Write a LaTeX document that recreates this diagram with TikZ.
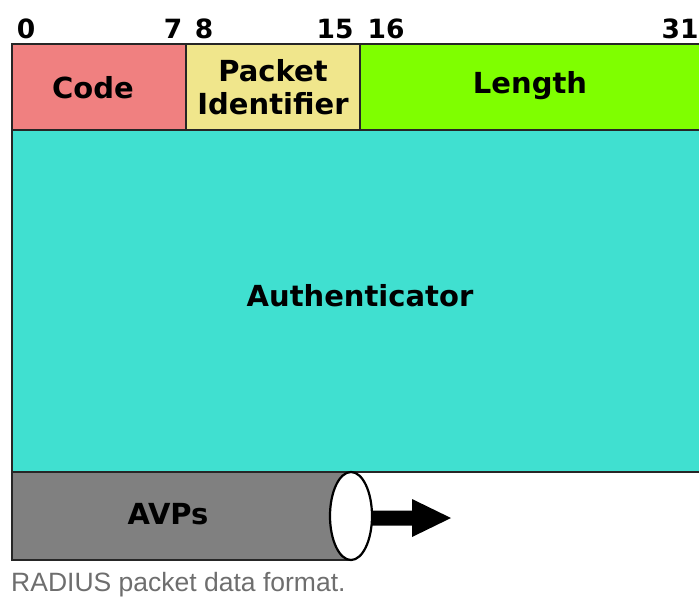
\documentclass[tikz,border=0pt]{standalone}
\usepackage{fontspec}
\setmainfont{DejaVu Sans}
\newfontfamily\capfont{Liberation Sans}
\begin{document}
\begin{tikzpicture}[x=1pt,y=-1pt,
  field/.style={draw=black!85,line width=2pt},
  lbl/.style={font=\bfseries\fontsize{29}{32}\selectfont,inner sep=0pt},
  bitnum/.style={font=\bfseries\fontsize{26.5}{28}\selectfont,inner sep=0pt,anchor=base}]
\useasboundingbox (0,0) rectangle (699,598);
\clip (0,0) rectangle (699,598);
% header row
\fill[fill={rgb,255:red,240;green,128;blue,128}] (12,44) rectangle (186,130);
\fill[fill={rgb,255:red,240;green,230;blue,140}] (186,44) rectangle (360,130);
\fill[fill={rgb,255:red,127;green,255;blue,0}] (360,44) rectangle (710,130);
\fill[fill={rgb,255:red,64;green,224;blue,208}] (12,130) rectangle (710,472);
\draw[field] (12,44) rectangle (710,472);
\draw[field] (12,130) -- (710,130);
\draw[field] (186,44) -- (186,130);
\draw[field] (360,44) -- (360,130);
% field labels
\node[lbl] (code) at (93,88) {Code};
\node[lbl,align=center,font=\bfseries\fontsize{29}{33}\selectfont] (pid) at (273,87) {Packet\\Identifier};
\node[lbl] (len) at (530,86) {Length};
\node[lbl] (auth) at (360,296) {Authenticator};
% bit numbers
\node[bitnum] (b0) at (26,38) {0};
\node[bitnum] (b7) at (173,38) {7};
\node[bitnum] (b8) at (204,38) {8};
\node[bitnum] (b15) at (335,38) {15};
\node[bitnum] (b16) at (386,38) {16};
\node[bitnum] (b31) at (680,38) {31};
% AVPs cylinder
\filldraw[fill=gray,draw=black!85,line width=2pt] (351,472) -- (12,472) -- (12,560) -- (351,560);
\filldraw[fill=white,draw=black,line width=2.2pt] (351,516) ellipse [x radius=21,y radius=44];
\node[lbl] (avps) at (168,514) {AVPs};
\coordinate (cylend) at (372,518);
\fill[black] (cylend) ++(0,-7.5) -- (412,510.5) -- (412,499) -- (451,518) -- (412,537) -- (412,525.5) -- (372,525.5) -- cycle;
% caption
\node[anchor=base west,inner sep=0pt,text={rgb,255:red,110;green,110;blue,110},font=\capfont\fontsize{26.5}{28}\selectfont] (cap) at (11,591) {RADIUS packet data format.};
\end{tikzpicture}
\end{document}
